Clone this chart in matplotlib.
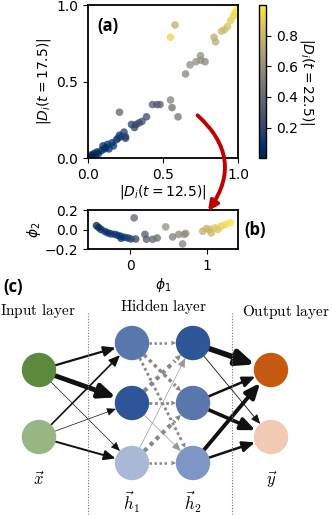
import numpy as np
import matplotlib
matplotlib.use("Agg")
import matplotlib.pyplot as plt
from matplotlib.patches import Circle, FancyArrowPatch, ConnectionPatch

# ---- panel (a): |D_i| at t=12.5 vs t=17.5, coloured by t=22.5
a_x = [0.01, 0.02, 0.03, 0.04, 0.05, 0.06, 0.07, 0.09, 0.10, 0.11, 0.12, 0.13, 0.14,
       0.16, 0.17, 0.19, 0.20, 0.21, 0.22, 0.24, 0.25, 0.25, 0.29, 0.31, 0.32, 0.34,
       0.36, 0.39, 0.21, 0.43, 0.46, 0.48, 0.55, 0.56, 0.60, 0.65, 0.68, 0.72, 0.75,
       0.75, 0.78, 0.55, 0.58, 0.84, 0.85, 0.89, 0.91, 0.93, 0.95, 0.97, 0.98, 0.99]
a_y = [0.005, 0.02, 0.01, 0.03, 0.02, 0.04, 0.03, 0.05, 0.08, 0.06, 0.07, 0.09, 0.06,
       0.10, 0.08, 0.12, 0.13, 0.15, 0.14, 0.17, 0.14, 0.13, 0.22, 0.20, 0.22, 0.23,
       0.24, 0.27, 0.30, 0.35, 0.35, 0.35, 0.38, 0.33, 0.27, 0.55, 0.61, 0.63, 0.64,
       0.67, 0.63, 0.79, 0.87, 0.79, 0.76, 0.83, 0.84, 0.86, 0.90, 0.93, 0.95, 0.97]
a_c = [0.01, 0.02, 0.02, 0.03, 0.03, 0.04, 0.04, 0.05, 0.06, 0.06, 0.07, 0.08, 0.08,
       0.09, 0.10, 0.11, 0.12, 0.13, 0.13, 0.14, 0.15, 0.15, 0.17, 0.18, 0.19, 0.20,
       0.21, 0.23, 0.35, 0.30, 0.30, 0.31, 0.52, 0.42, 0.45, 0.55, 0.58, 0.60, 0.62,
       0.60, 0.55, 0.92, 0.76, 0.75, 0.74, 0.80, 0.82, 0.84, 0.88, 0.92, 0.95, 0.99]

# ---- panel (b): embedding phi_1, phi_2
b_x = [-0.44, -0.41, -0.38, -0.33, -0.29, -0.25, -0.20, -0.16, -0.12, -0.07, -0.03,
       0.01, 0.07, -0.12, 0.05, 0.19, 0.21, 0.29, 0.35, 0.46, 0.55, 0.63, 0.70, 0.68,
       0.72, 0.94, 0.99, 1.03, 1.05, 1.10, 1.14, 1.18, 1.24, 1.30]
b_y = [0.04, 0.02, 0.00, -0.02, -0.035, -0.045, -0.05, -0.06, -0.07, -0.08, -0.087,
       -0.097, -0.097, -0.09, 0.12, -0.05, -0.10, -0.10, -0.087, 0.027, -0.076, -0.05,
       -0.05, -0.148, -0.04, -0.017, 0.01, 0.0, -0.035, 0.017, 0.0, 0.034, 0.052, 0.069]
b_c = [0.01, 0.02, 0.03, 0.04, 0.05, 0.06, 0.07, 0.08, 0.10, 0.11, 0.12, 0.14, 0.17,
       0.09, 0.35, 0.30, 0.31, 0.38, 0.40, 0.60, 0.50, 0.55, 0.60, 0.52, 0.58, 0.74,
       0.78, 0.80, 0.79, 0.85, 0.86, 0.90, 0.93, 0.98]

# ---- panel (c): network
node_pos = {
    "in": [(39, 370), (39, 437)],
    "h1": [(132, 343), (132, 403), (132, 463)],
    "h2": [(193, 343), (193, 403), (193, 463)],
    "out": [(271, 370), (271, 437)],
}
node_col = {
    "in": ["#5b8a3c", "#98b584"],
    "h1": ["#5a77ad", "#2d5597", "#a8b8d6"],
    "h2": ["#2e5596", "#5a77ad", "#7d96c5"],
    "out": ["#c5590f", "#f0cab3"],
}
w_in = [[1.6, 3.5, 0.5],
        [1.2, 0.5, 1.4]]
w_hid = [[1.8, 2.5, 2.0],
         [3.0, 2.0, -0.5],
         [-0.5, 3.0, 1.8]]
w_out = [[4.0, 0.6],
         [1.8, 2.6],
         [2.8, 1.8]]

fig = plt.figure(figsize=(3.32, 5.15), dpi=100)

# (a)
ax_a = fig.add_axes([0.265, 0.693, 0.452, 0.297])
sc = ax_a.scatter(a_x, a_y, c=a_c, cmap="cividis", vmin=0, vmax=1.0, s=30, alpha=0.75,
                  edgecolors="none")
ax_a.set_xlim(0, 1)
ax_a.set_ylim(0, 1)
ax_a.set_xticks([0, 0.5, 1.0])
ax_a.set_yticks([0, 0.5, 1.0])
ax_a.set_xticklabels(["0.0", "0.5", "1.0"])
ax_a.set_yticklabels(["0.0", "0.5", "1.0"])
ax_a.set_xlabel(r"$|D_i(t=12.5)|$", labelpad=1)
ax_a.set_ylabel(r"$|D_i(t=17.5)|$", labelpad=2)
ax_a.text(0.06, 0.92, "(a)", transform=ax_a.transAxes, fontsize=12, fontweight="bold",
          family="Open Sans", va="top")

cax = fig.add_axes([0.780, 0.693, 0.021, 0.297])
cb = fig.colorbar(sc, cax=cax)
cb.solids.set_alpha(1)
cb.set_ticks([0.2, 0.4, 0.6, 0.8])
cb.set_label(r"$|D_i(t=22.5)|$", rotation=270, labelpad=13)
cb.outline.set_linewidth(1.0)

# (b)
ax_b = fig.add_axes([0.265, 0.5165, 0.452, 0.0757])
ax_b.scatter(b_x, b_y, c=b_c, cmap="cividis", vmin=0, vmax=1.0, s=30, alpha=0.75,
             edgecolors="none")
ax_b.set_xlim(-0.55, 1.40)
ax_b.set_ylim(-0.2, 0.2)
ax_b.set_xticks([0, 1])
ax_b.set_yticks([-0.2, 0.0, 0.2])
ax_b.set_xlabel(r"$\phi_1$", labelpad=2)
ax_b.set_ylabel(r"$\phi_2$", labelpad=1)
fig.text(0.735, 0.553, "(b)", fontsize=12, fontweight="bold", family="Open Sans", va="center")

for ax in (ax_a, ax_b):
    for sp in ax.spines.values():
        sp.set_linewidth(1.3)

# red arrow from (a) to (b)
con = ConnectionPatch(xyA=(0.73, 0.28), coordsA=ax_a.transData,
                      xyB=(1.01, 0.19), coordsB=ax_b.transData,
                      arrowstyle="-|>", mutation_scale=14, color="#c00000", lw=2.8,
                      connectionstyle="arc3,rad=-0.44")
fig.add_artist(con)

# (c) network, drawn in pixel-like units
ax_c = fig.add_axes([0, 0, 1, 235 / 515])
ax_c.set_xlim(0, 332)
ax_c.set_ylim(515, 280)
ax_c.axis("off")

r = 16.5
for layer in node_pos:
    for (x, y), col in zip(node_pos[layer], node_col[layer]):
        ax_c.add_patch(Circle((x, y), r, color=col, zorder=3))


def edge(p0, p1, lw, dotted=False):
    p0 = np.array(p0, float)
    p1 = np.array(p1, float)
    d = (p1 - p0) / np.linalg.norm(p1 - p0)
    s = p0 + d * (r + 0.5)
    e = p1 - d * (r + 0.5)
    if dotted:
        head = 5 + 1.8 * lw
        m = e - d * head * 0.8
        ax_c.plot([s[0], m[0]], [s[1], m[1]], ls=(0, (1, 1)), color="#888888", lw=lw,
                  zorder=2)
        ax_c.add_patch(FancyArrowPatch(e - d * 2, e, arrowstyle="-|>", mutation_scale=head,
                                       color="#888888", lw=0, shrinkA=0, shrinkB=0,
                                       zorder=2))
    else:
        col = "#111111" if lw > 0 else "#999999"
        ax_c.add_patch(FancyArrowPatch(s, e, arrowstyle="-|>,head_width=0.3,head_length=0.7",
                                       mutation_scale=7 + 2.0 * abs(lw),
                                       color=col, lw=abs(lw), shrinkA=0, shrinkB=0,
                                       zorder=2))


for i, p0 in enumerate(node_pos["in"]):
    for j, p1 in enumerate(node_pos["h1"]):
        edge(p0, p1, w_in[i][j])
for i, p0 in enumerate(node_pos["h1"]):
    for j, p1 in enumerate(node_pos["h2"]):
        w = w_hid[i][j]
        if w > 0:
            edge(p0, p1, w, dotted=True)
        else:
            edge(p0, p1, w)
for i, p0 in enumerate(node_pos["h2"]):
    for j, p1 in enumerate(node_pos["out"]):
        edge(p0, p1, w_out[i][j])

for xv in (88, 232):
    ax_c.plot([xv, xv], [313, 515], ls=(0, (1, 1.5)), color="#777777", lw=0.8)

tkw = dict(ha="center", va="center", fontsize=11, math_fontfamily="cm")
ax_c.text(38, 311, r"$\mathrm{Input\ layer}$", **tkw)
ax_c.text(163, 306, r"$\mathrm{Hidden\ layer}$", **tkw)
ax_c.text(286, 312, r"$\mathrm{Output\ layer}$", **tkw)
vkw = dict(tkw, fontsize=12)
ax_c.text(39, 480, r"$\vec{x}$", **vkw)
ax_c.text(132, 502, r"$\vec{h}_1$", **vkw)
ax_c.text(193, 502, r"$\vec{h}_2$", **vkw)
ax_c.text(271, 480, r"$\vec{y}$", **vkw)
ax_c.text(3, 287, "(c)", fontsize=12, fontweight="bold", family="Open Sans", va="center")

fig.savefig("out.png", dpi=100)
